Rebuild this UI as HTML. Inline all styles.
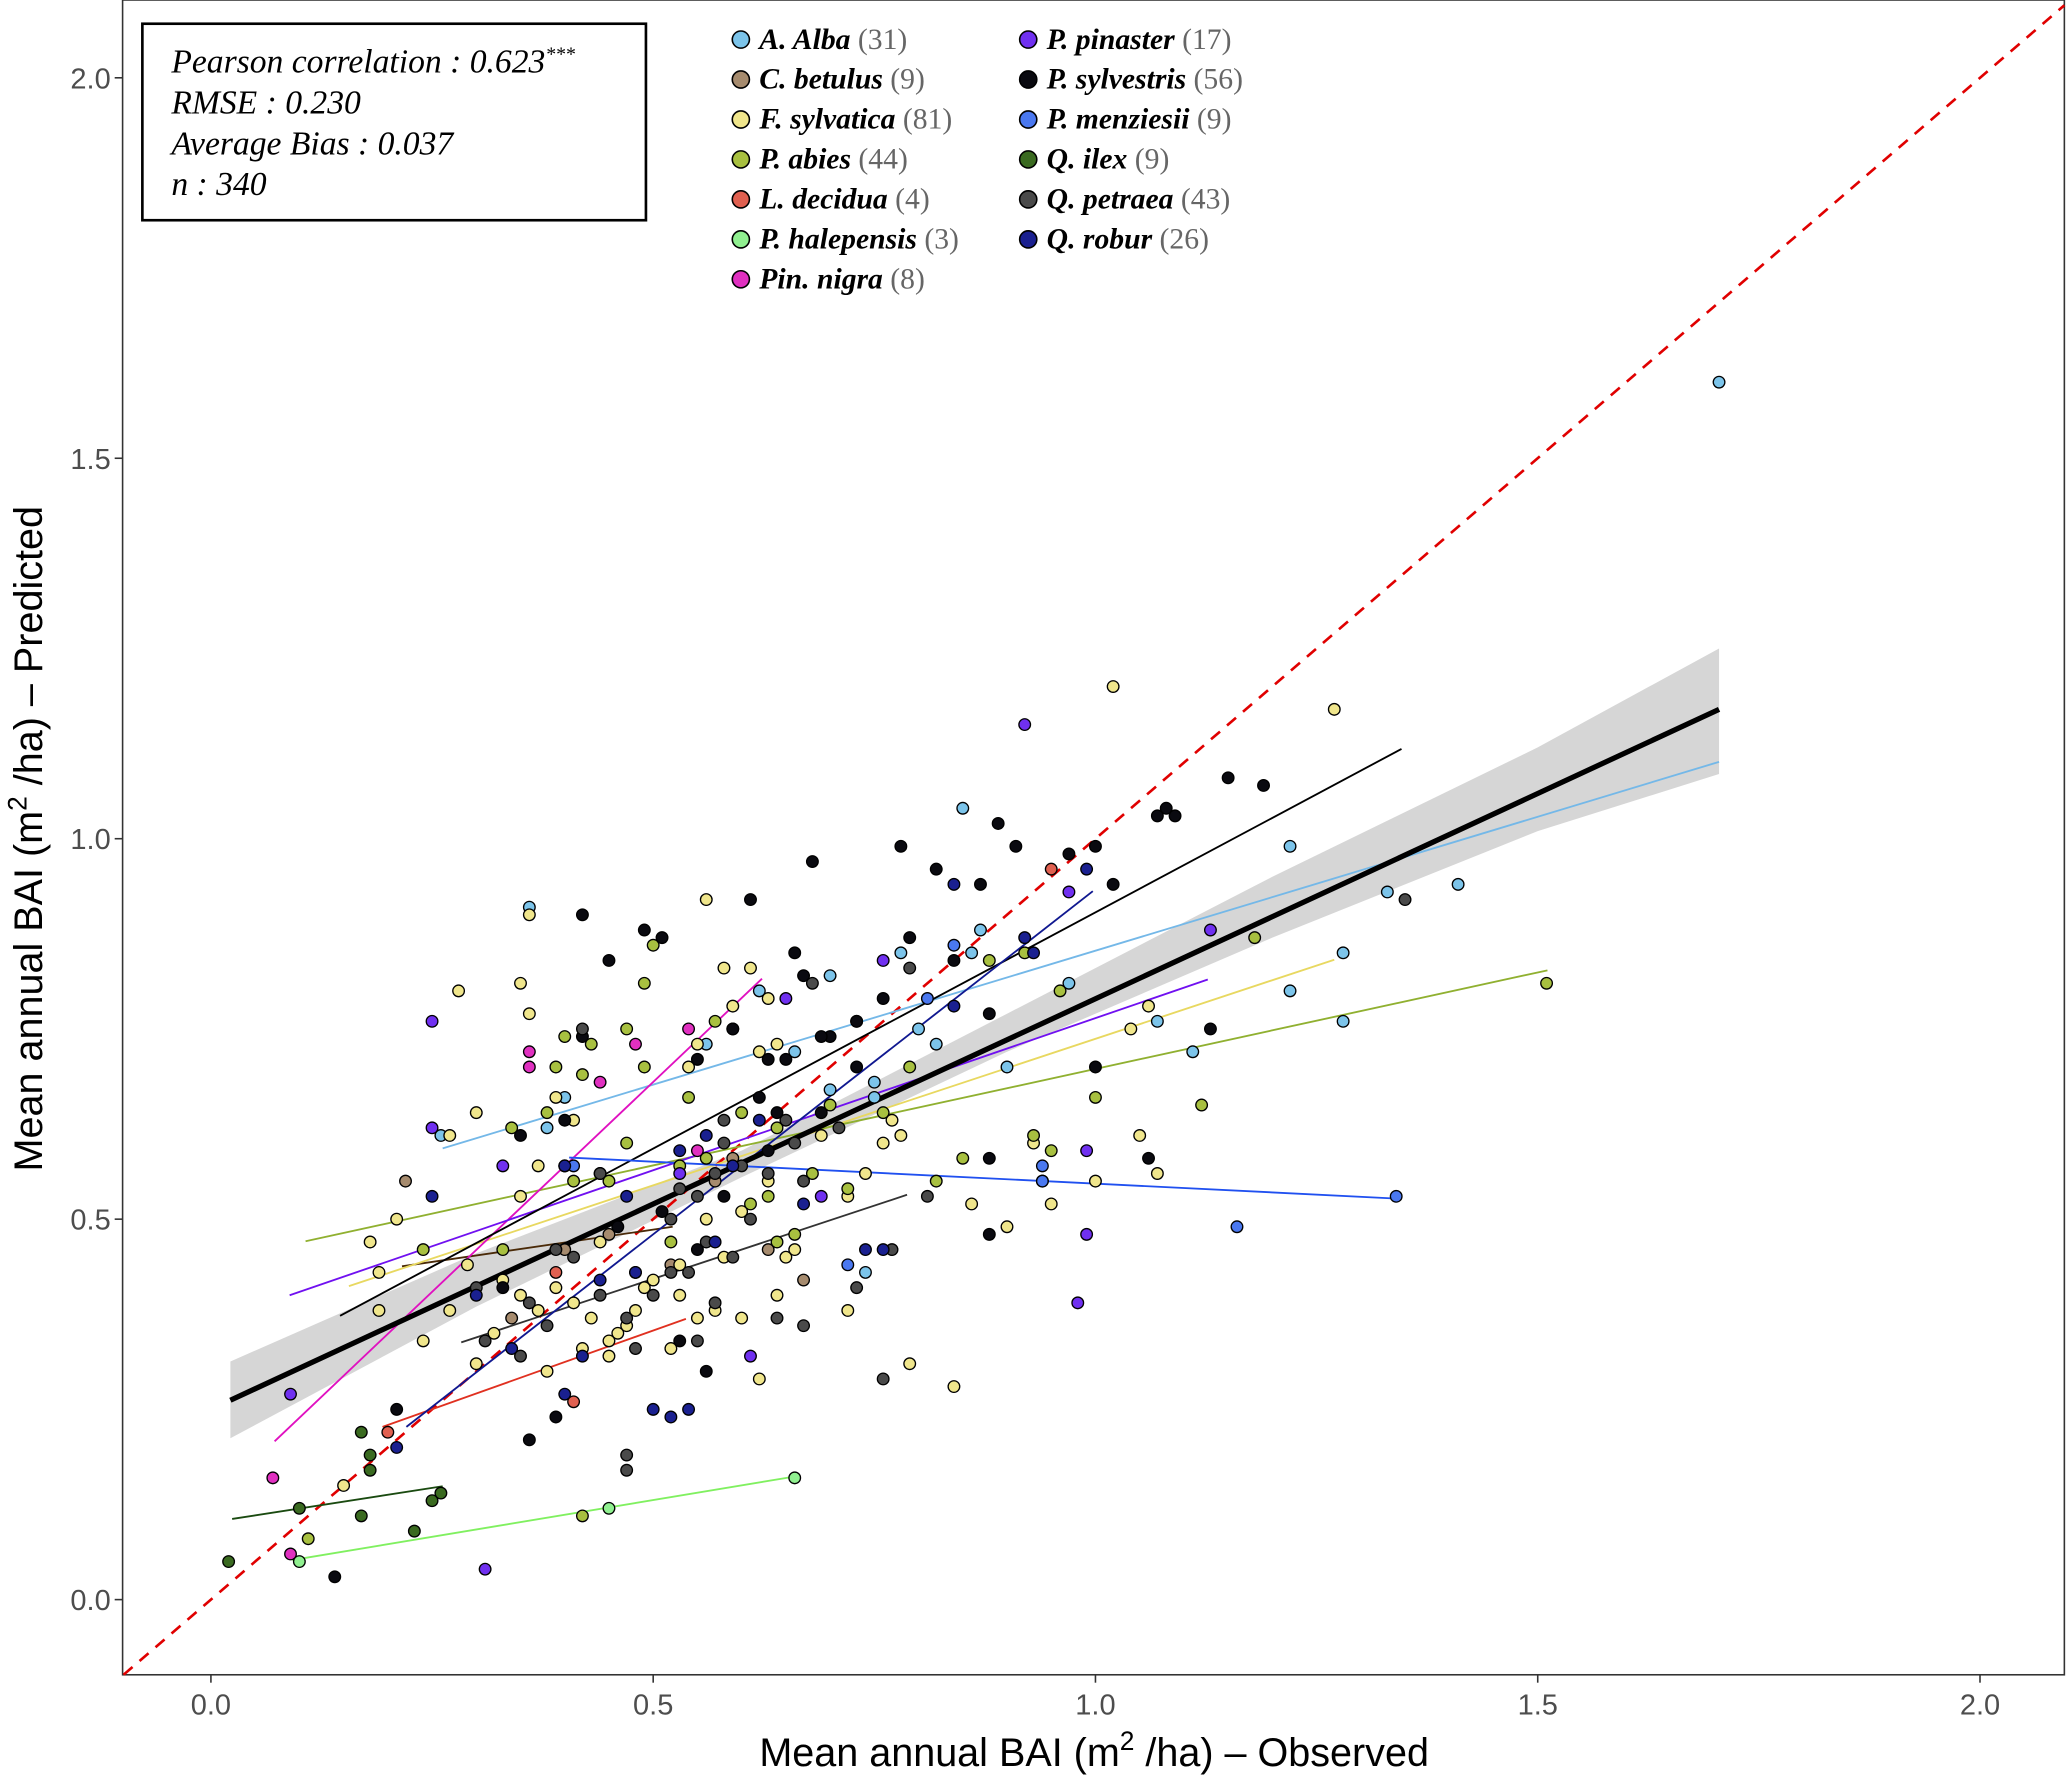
<!DOCTYPE html>
<html><head><meta charset="utf-8"><style>
html,body{margin:0;padding:0;background:#fff;}
svg{display:block;}
.tick{font-family:"Liberation Sans",sans-serif;font-size:22px;fill:#4d4d4d;}
.ttl{font-family:"Liberation Sans",sans-serif;font-size:30px;fill:#000;}
.lg{font-family:"Liberation Serif",serif;font-size:22.5px;font-style:italic;font-weight:bold;fill:#000;}
.lgn{font-weight:normal;font-style:normal;fill:#666;}
.st{font-family:"Liberation Serif",serif;font-size:25.5px;font-style:italic;fill:#000;}
</style></head><body>
<svg id="chart" width="2067" height="1775" viewBox="0 0 1568 1346" preserveAspectRatio="none" xmlns="http://www.w3.org/2000/svg">
<rect x="93" y="0" width="1473" height="1270" fill="#fff" stroke="#333" stroke-width="1.2"/>
<g id="band"></g>
<g id="marks"></g>
<g id="axes"></g>
<text class="ttl" x="830" y="1339" text-anchor="middle">Mean annual BAI (m<tspan dy="-12" font-size="20">2</tspan><tspan dy="12"> /ha) – Observed</tspan></text>
<text class="ttl" transform="translate(32,636) rotate(-90)" text-anchor="middle">Mean annual BAI (m<tspan dy="-12" font-size="20">2</tspan><tspan dy="12"> /ha) – Predicted</tspan></text>
<g>
<rect x="108" y="18" width="382" height="149" fill="#fff" stroke="#000" stroke-width="2"/>
<text class="st" x="130" y="55">Pearson correlation : 0.623<tspan dy="-9" font-size="15">***</tspan></text>
<text class="st" x="130" y="86">RMSE : 0.230</text>
<text class="st" x="130" y="117">Average Bias : 0.037</text>
<text class="st" x="130" y="148">n : 340</text>
</g>
<g id="legend"></g>
</svg>
<script>
const species = ["A. Alba","C. betulus","F. sylvatica","P. abies","L. decidua","P. halepensis","Pin. nigra","P. pinaster","P. sylvestris","P. menziesii","Q. ilex","Q. petraea","Q. robur"];
const counts = [31,9,81,44,4,3,8,17,56,9,9,43,26];
const colors = ["#7cc4ea","#a68b6e","#f0e68c","#a8c040","#e06050","#90f090","#e030c0","#7030f0","#0a0a10","#4a78f0","#3a6a20","#4a4a4a","#1a2090"];
const lineColors = ["#74b8e8","#4a2a08","#e8d860","#90b030","#e03020","#80f060","#e010c0","#7010f0","#000000","#2050f0","#1a4a10","#333333","#101890"];
const xTicks = [0,0.5,1,1.5,2];
const yTicks = [0,0.5,1,1.5,2];
const xTickLabels = ["0.0","0.5","1.0","1.5","2.0"];
const yTickLabels = ["0.0","0.5","1.0","1.5","2.0"];
const fits = [[0.262,0.593,1.705,1.101],[0.216,0.438,0.522,0.49],[0.156,0.412,1.27,0.841],[0.107,0.471,1.511,0.827],[0.194,0.227,0.537,0.369],[0.092,0.052,0.656,0.161],[0.072,0.208,0.623,0.816],[0.089,0.4,1.127,0.815],[0.146,0.373,1.346,1.118],[0.405,0.581,1.341,0.527],[0.024,0.106,0.262,0.149],[0.283,0.338,0.787,0.532],[0.221,0.227,0.997,0.931]];
const overallFit = [0.022,0.262,1.705,1.17];
const bandX = [0.022,0.3,0.6,0.9,1.2,1.5,1.705];
const bandLo = [0.212,0.385,0.555,0.72,0.87,1.01,1.085];
const bandHi = [0.313,0.455,0.59,0.77,0.95,1.12,1.25];
const ptsAlba = [[1.705,1.60],[0.85,1.04],[1.22,0.99],[1.33,0.93],[1.41,0.94],[1.28,0.85],[1.22,0.80],[1.28,0.76],[1.11,0.72],[0.97,0.81],[0.87,0.88],[0.78,0.85],[0.86,0.85],[0.62,0.80],[0.70,0.82],[0.73,0.76],[0.80,0.75],[0.82,0.73],[0.66,0.72],[0.59,0.75],[0.56,0.73],[0.36,0.91],[0.38,0.62],[0.26,0.61],[0.40,0.66],[0.75,0.66],[0.75,0.68],[0.74,0.43],[0.70,0.67],[1.07,0.76],[0.90,0.70]];
const ptsBetulus = [[0.22,0.55],[0.40,0.46],[0.63,0.46],[0.67,0.42],[0.52,0.44],[0.57,0.55],[0.59,0.58],[0.45,0.48],[0.34,0.37]];
const ptsSylvatica = [[1.02,1.20],[1.27,1.17],[0.56,0.92],[0.36,0.90],[0.28,0.80],[0.35,0.81],[0.36,0.77],[0.58,0.83],[0.61,0.83],[0.59,0.78],[0.55,0.73],[0.63,0.79],[0.62,0.72],[0.64,0.73],[0.54,0.70],[0.39,0.66],[0.41,0.63],[0.30,0.64],[0.27,0.61],[0.37,0.57],[0.40,0.57],[0.35,0.53],[0.18,0.47],[0.19,0.43],[0.19,0.38],[0.24,0.34],[0.27,0.38],[0.30,0.31],[0.32,0.35],[0.35,0.40],[0.37,0.38],[0.38,0.30],[0.39,0.41],[0.41,0.39],[0.42,0.33],[0.43,0.37],[0.45,0.34],[0.46,0.35],[0.47,0.36],[0.49,0.41],[0.50,0.42],[0.52,0.33],[0.53,0.40],[0.55,0.37],[0.57,0.38],[0.58,0.45],[0.60,0.37],[0.62,0.29],[0.64,0.40],[0.65,0.45],[0.66,0.46],[0.72,0.38],[0.72,0.53],[0.76,0.60],[0.77,0.63],[0.78,0.61],[0.79,0.31],[0.84,0.28],[0.86,0.52],[0.90,0.49],[0.93,0.60],[0.95,0.52],[1.04,0.75],[1.05,0.61],[1.06,0.78],[1.07,0.56],[1.00,0.55],[0.94,0.55],[0.44,0.47],[0.53,0.44],[0.56,0.50],[0.74,0.56],[0.69,0.61],[0.63,0.55],[0.48,0.38],[0.45,0.32],[0.33,0.42],[0.21,0.50],[0.15,0.15],[0.29,0.44],[0.60,0.51]];
const ptsAbies = [[1.51,0.81],[1.18,0.87],[1.12,0.65],[1.00,0.66],[0.92,0.85],[0.88,0.84],[0.93,0.61],[0.96,0.80],[0.50,0.86],[0.47,0.75],[0.49,0.70],[0.43,0.73],[0.40,0.74],[0.39,0.70],[0.34,0.62],[0.41,0.55],[0.24,0.46],[0.54,0.66],[0.49,0.81],[0.57,0.76],[0.60,0.64],[0.64,0.62],[0.63,0.53],[0.72,0.54],[0.66,0.48],[0.82,0.55],[0.85,0.58],[0.95,0.59],[0.11,0.08],[0.42,0.11],[0.38,0.64],[0.47,0.60],[0.53,0.57],[0.61,0.52],[0.70,0.65],[0.76,0.64],[0.56,0.58],[0.45,0.55],[0.52,0.47],[0.33,0.46],[0.64,0.47],[0.68,0.56],[0.79,0.70],[0.42,0.69]];
const ptsDecidua = [[0.95,0.96],[0.39,0.43],[0.20,0.22],[0.41,0.26]];
const ptsHalepensis = [[0.66,0.16],[0.45,0.12],[0.10,0.05]];
const ptsNigra = [[0.07,0.16],[0.09,0.06],[0.36,0.72],[0.36,0.70],[0.48,0.73],[0.54,0.75],[0.44,0.68],[0.55,0.59]];
const ptsPinaster = [[0.92,1.15],[0.97,0.93],[0.99,0.59],[1.13,0.88],[0.25,0.76],[0.25,0.62],[0.09,0.27],[0.31,0.04],[0.61,0.32],[0.69,0.53],[0.76,0.84],[0.98,0.39],[0.99,0.48],[0.44,0.56],[0.65,0.79],[0.33,0.57],[0.53,0.56]];
const ptsSylvestris = [[0.42,0.90],[0.49,0.88],[0.51,0.87],[0.45,0.84],[0.61,0.92],[0.68,0.97],[0.78,0.99],[0.82,0.96],[0.89,1.02],[0.91,0.99],[0.97,0.98],[1.00,0.99],[1.02,0.94],[1.07,1.03],[1.08,1.04],[1.09,1.03],[1.15,1.08],[1.19,1.07],[0.87,0.94],[0.84,0.84],[0.88,0.77],[0.79,0.87],[0.76,0.79],[0.73,0.76],[0.70,0.74],[0.69,0.74],[0.65,0.71],[0.63,0.71],[0.59,0.75],[0.55,0.71],[0.66,0.85],[0.67,0.82],[0.73,0.70],[0.69,0.64],[0.64,0.64],[0.62,0.66],[1.00,0.70],[1.13,0.75],[1.06,0.58],[0.88,0.58],[0.88,0.48],[0.63,0.59],[0.58,0.53],[0.51,0.51],[0.46,0.49],[0.40,0.63],[0.42,0.74],[0.35,0.61],[0.33,0.41],[0.21,0.25],[0.36,0.21],[0.39,0.24],[0.14,0.03],[0.53,0.34],[0.56,0.30],[0.55,0.46]];
const ptsMenziesii = [[1.34,0.53],[1.16,0.49],[0.94,0.57],[0.94,0.55],[0.81,0.79],[0.84,0.86],[0.72,0.44],[0.41,0.57],[0.48,0.43]];
const ptsIlex = [[0.02,0.05],[0.10,0.12],[0.17,0.11],[0.17,0.22],[0.18,0.19],[0.18,0.17],[0.25,0.13],[0.23,0.09],[0.26,0.14]];
const ptsPetraea = [[1.35,0.92],[0.81,0.53],[0.79,0.83],[0.68,0.81],[0.76,0.29],[0.73,0.41],[0.77,0.46],[0.67,0.36],[0.64,0.37],[0.71,0.62],[0.60,0.57],[0.58,0.63],[0.57,0.56],[0.56,0.47],[0.55,0.53],[0.52,0.43],[0.52,0.50],[0.50,0.40],[0.48,0.33],[0.47,0.37],[0.47,0.19],[0.47,0.17],[0.44,0.40],[0.41,0.45],[0.42,0.75],[0.39,0.46],[0.36,0.39],[0.35,0.32],[0.31,0.34],[0.30,0.41],[0.38,0.36],[0.55,0.34],[0.63,0.56],[0.66,0.60],[0.57,0.39],[0.54,0.43],[0.61,0.50],[0.53,0.54],[0.44,0.56],[0.65,0.63],[0.67,0.55],[0.58,0.60],[0.59,0.45]];
const ptsRobur = [[0.25,0.53],[0.21,0.20],[0.34,0.33],[0.40,0.27],[0.42,0.32],[0.48,0.43],[0.50,0.25],[0.52,0.24],[0.54,0.25],[0.56,0.61],[0.59,0.57],[0.62,0.63],[0.67,0.52],[0.74,0.46],[0.76,0.46],[0.84,0.94],[0.84,0.78],[0.92,0.87],[0.99,0.96],[0.93,0.85],[0.47,0.53],[0.53,0.59],[0.44,0.42],[0.40,0.57],[0.30,0.40],[0.57,0.47]];
const allPts = [ptsAlba,ptsBetulus,ptsSylvatica,ptsAbies,ptsDecidua,ptsHalepensis,ptsNigra,ptsPinaster,ptsSylvestris,ptsMenziesii,ptsIlex,ptsPetraea,ptsRobur];

const NS = "http://www.w3.org/2000/svg";
const X0 = 93, X1 = 1566, Y0 = 0, Y1 = 1270;
function sx(v){ return 160 + v*671; }
function sy(v){ return 1213 - v*577; }
function mk(tag, attrs, parent){ const e = document.createElementNS(NS, tag); for (const k in attrs) e.setAttribute(k, attrs[k]); parent.appendChild(e); return e; }
const marks = document.getElementById('marks');
const band = document.getElementById('band');
const axes = document.getElementById('axes');

let d = "";
bandX.forEach((x,i)=>{ d += (i?"L":"M") + sx(x) + "," + sy(bandHi[i]); });
for (let i = bandX.length-1; i >= 0; i--) d += "L" + sx(bandX[i]) + "," + sy(bandLo[i]);
const bp = mk('path', {d: d + "Z", fill: "#d6d6d6"}, band);



const xmin = (X0-160)/671, xmax = (X1-160)/671;
const ymin = (1213-Y1)/577, ymax = (1213-Y0)/577;
const a = Math.max(xmin, ymin), b = Math.min(xmax, ymax);
const idl = mk('line', {x1: sx(a), y1: sy(a), x2: sx(b), y2: sy(b), stroke: "#e00000", "stroke-width": 2, "stroke-dasharray": "9,7"}, marks);



fits.forEach((f,i)=>{
  const l = mk('line', {x1: sx(f[0]), y1: sy(f[1]), x2: sx(f[2]), y2: sy(f[3]), stroke: lineColors[i], "stroke-width": 1.4}, marks);
  
  
});
const ol = mk('line', {x1: sx(overallFit[0]), y1: sy(overallFit[1]), x2: sx(overallFit[2]), y2: sy(overallFit[3]), stroke: "#000", "stroke-width": 4}, marks);



allPts.forEach((arr,i)=>{
  arr.forEach(p=>{
    const c = mk('circle', {cx: sx(p[0]), cy: sy(p[1]), r: 4.4, fill: colors[i], stroke: "#000", "stroke-width": 1}, marks);
    
    
  });
});

xTicks.forEach((v,i)=>{
  const t = mk('line', {x1: sx(v), y1: Y1, x2: sx(v), y2: Y1+6, stroke: "#333", "stroke-width": 1.2}, axes);
  
  
  const tx = mk('text', {x: sx(v), y: Y1+30, "text-anchor": "middle", class: "tick"}, axes);
  tx.textContent = xTickLabels[i];
  
  
});
yTicks.forEach((v,i)=>{
  const t = mk('line', {x1: X0-6, y1: sy(v), x2: X0, y2: sy(v), stroke: "#333", "stroke-width": 1.2}, axes);
  
  
  const tx = mk('text', {x: X0-9, y: sy(v)+8, "text-anchor": "end", class: "tick"}, axes);
  tx.textContent = yTickLabels[i];
  
  
});

const lg = document.getElementById('legend');
species.forEach((s,i)=>{
  const col = i < 7 ? 0 : 1, row = i < 7 ? i : i-7;
  const cx = col ? 780 : 562, cy = 30 + row*30.3;
  const g = mk('g', {}, lg);
  
  
  mk('circle', {cx: cx, cy: cy, r: 6.5, fill: colors[i], stroke: "#000", "stroke-width": 1.2}, g);
  const t = mk('text', {x: cx+14, y: cy+7, class: "lg"}, g);
  t.textContent = s + " ";
  const n = mk('tspan', {class: "lgn"}, t);
  n.textContent = "(" + counts[i] + ")";
});
</script>
</body></html>
